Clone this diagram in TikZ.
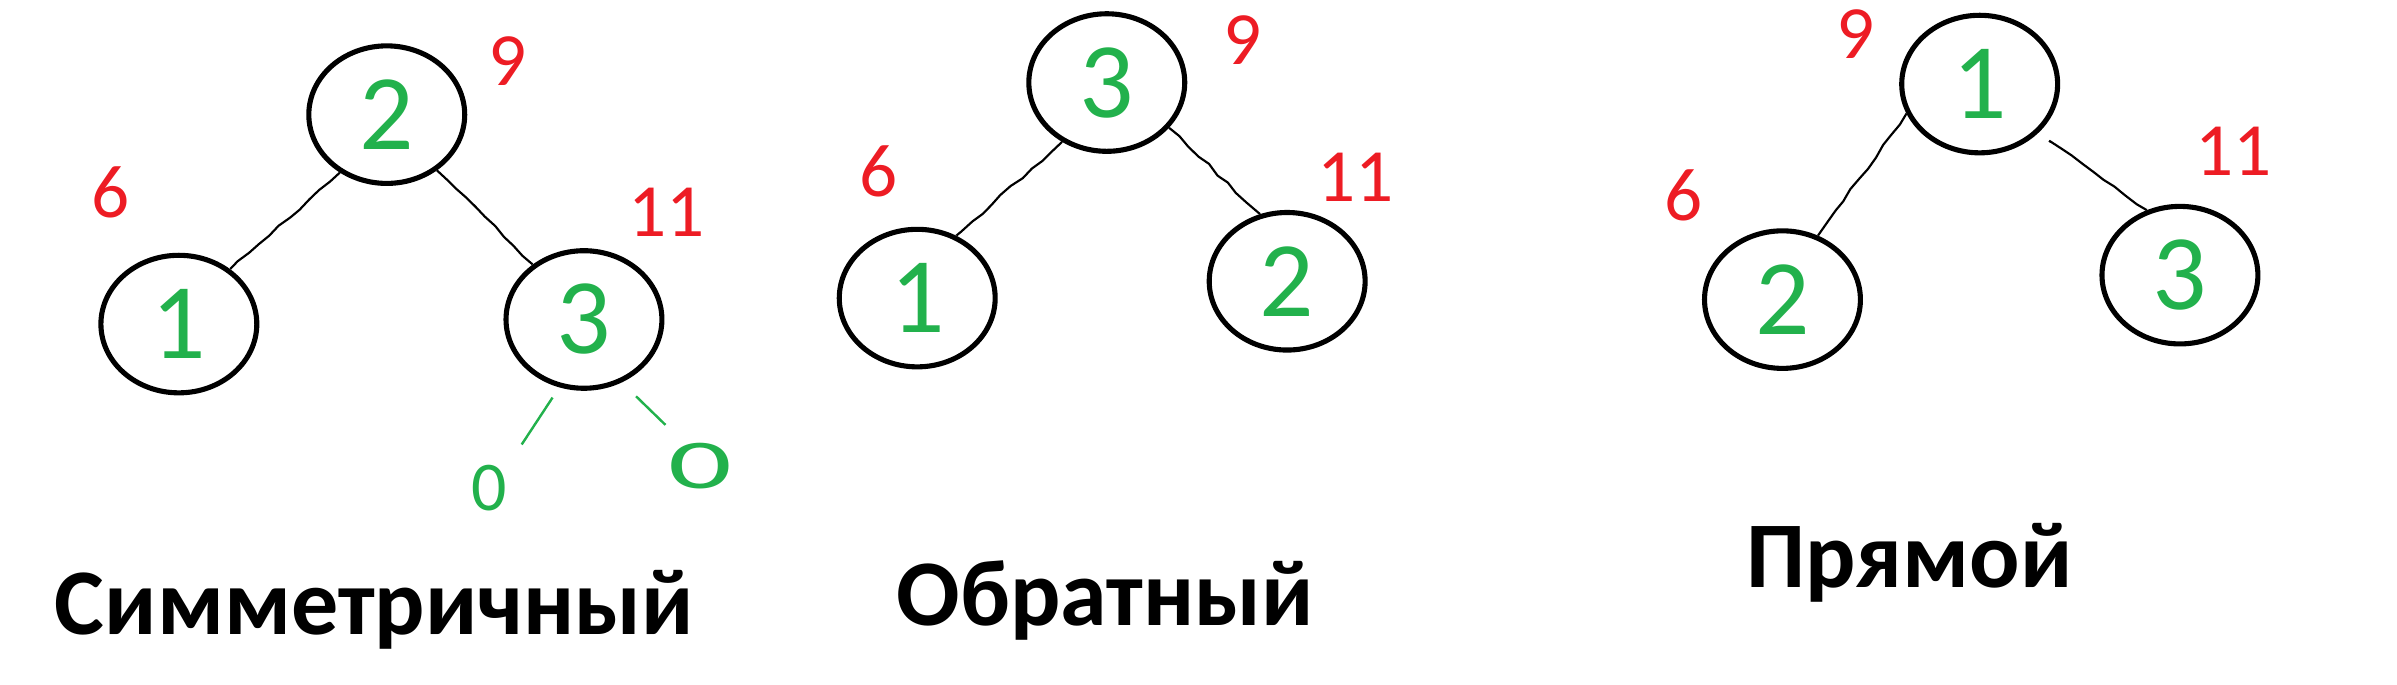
\documentclass[tikz,border=0pt]{standalone}
\usepackage{fontspec}
\setmainfont{Carlito}
\usepackage{xcolor}
\usepackage{tikz}
\usetikzlibrary{shapes.geometric, decorations.pathmorphing}

\definecolor{paintgreen}{RGB}{34,177,76}
\definecolor{paintred}{RGB}{237,28,36}

\begin{document}
\begin{tikzpicture}[
    x=0.02cm, y=-0.02cm,
    vertex/.style={ellipse, draw=black, line width=1.9pt, minimum width=2.04cm, minimum height=1.8cm, inner sep=0pt, text=paintgreen, font=\fontsize{40}{40}\selectfont},
    weight/.style={text=paintred, inner sep=0pt, font=\fontsize{28}{28}\selectfont},
    title/.style={anchor=base, font=\fontsize{35}{35}\selectfont\bfseries},
    link/.style={line width=0.8pt, decorate, decoration={random steps, segment length=5pt, amplitude=0.5pt}},
    nilline/.style={draw=paintgreen, line width=0.9pt},
    nilleaf/.style={circle, minimum size=1.4cm, inner sep=0pt, text=paintgreen, font=\fontsize{26}{26}\selectfont},
  ]
  \pgfmathsetseed{7}
  \useasboundingbox (0,0) rectangle (1568,448);

  % symmetric
  \node[vertex] (s0) at (253,75) {2};
  \node[vertex] (s1) at (117,212) {1};
  \node[vertex] (s2) at (382,209) {3};
  \node[nilleaf] (z1) at (320,319) {0};
  \node[nilleaf] (z2) at (458,305) {\scalebox{1.8}[1]{0}};
  \node[weight] (s0w) at (332,40) {9};
  \node[weight] (s1w) at (72,126) {6};
  \node[weight] (s2w) at (436,139) {11};
  \node[title] (stitle) at (245,415) {Симметричный};

  \draw[link] (s0.231) -- (s1.47);
  \draw[link] (s0.312) -- (s2.133);
  \draw[nilline, shorten <=0.16cm] (s2.250) -- (z1.53);
  \draw[nilline, shorten <=0.26cm] (s2.301) -- (z2.130);

  % reverse
  \node[vertex] (o0) at (724,54) {3};
  \node[vertex] (o1) at (600,195) {1};
  \node[vertex] (o2) at (842,184) {2};
  \node[weight] (o0w) at (813,26) {9};
  \node[weight] (o1w) at (575,112) {6};
  \node[weight] (o2w) at (887,116) {11};
  \node[title] (otitle) at (723,409) {Обратный};

  \draw[link] (o0.233) -- (o1.58);
  \draw[link] (o0.324) -- (o2.112);

  % direct
  \node[vertex] (p0) at (1295,55) {1};
  \node[vertex] (p1) at (1166,196) {2};
  \node[vertex] (p2) at (1426,180) {3};
  \node[weight] (p0w) at (1214,22) {9};
  \node[weight] (p1w) at (1101,128) {6};
  \node[weight] (p2w) at (1461,99) {11};
  \node[title] (ptitle) at (1249,384) {Прямой};

  \draw[link] (p0.202) -- (p1.61);
  \draw[link, shorten <=0.2cm] (p0.321) -- (p2.117);

\end{tikzpicture}
\end{document}
